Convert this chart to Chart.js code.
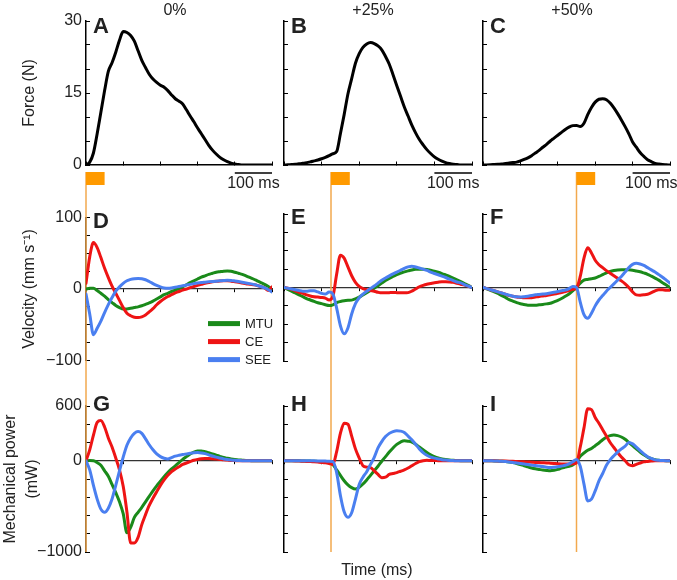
<!DOCTYPE html>
<html>
<head>
<meta charset="utf-8">
<script src="https://cdn.jsdelivr.net/npm/chart.js@4.4.1/dist/chart.umd.min.js"></script>
<style>
  body { margin: 0; background: #fff; }
  #fig { position: relative; width: 677px; height: 580px; overflow: hidden;
         font-family: 'Liberation Sans', Arial, sans-serif; color: #222; }
  #fig canvas { position: absolute; }
  .note { position: absolute; font-size: 16px; line-height: 18px; text-align: center; white-space: nowrap; }
</style>
</head>
<body>
<div id="fig"></div>
<script>
var FONT = "'Liberation Sans', Arial, sans-serif";
var INK = '#222';
var MTU = '#1a8a1a';
var CE = '#ee1414';
var SEE = '#4a7ff0';
var ORANGE = '#ff9a00';
var ORANGE_LINE = '#f2a94e';

// shared time base (ms)
var timeMs = [0, 10, 20, 30, 40, 50, 60, 70, 80, 90, 100, 110, 120, 130, 140, 150, 160, 170, 180, 190,
  200, 210, 220, 230, 240, 250, 260, 270, 280, 290, 300, 310, 320, 330, 340, 350, 360, 370, 380, 390,
  400, 410, 420, 430, 440, 450, 460, 470, 480, 490, 500];

var columnTitles = ['0%', '+25%', '+50%'];
var panelLetters = [['A', 'B', 'C'], ['D', 'E', 'F'], ['G', 'H', 'I']];
var seriesLabels = ['MTU', 'CE', 'SEE'];
var stimOnsetMs = [0, 125, 250];
var stimDurationMs = 50;

// force (N)
var forceA = [0, 0.6, 2.5, 6.5, 11, 15.5, 19.5, 21.3, 23.5, 26, 27.8, 27.6, 27, 25.8, 23.8, 21.8, 20.3, 18.9, 17.9, 17.2,
  16.6, 16.2, 15.5, 14.6, 13.8, 13.3, 12.7, 11.5, 10.2, 9, 7.7, 6.5, 5.3, 4.1, 3.1, 2.3, 1.6, 1.1, 0.7, 0.4,
  0.2, 0.1, 0, 0, 0, 0, 0, 0, 0, 0, 0];
var forceB = [0, 0.05, 0.1, 0.15, 0.25, 0.35, 0.5, 0.65, 0.85, 1.05, 1.3, 1.6, 1.95, 2.35, 2.8, 6.5, 10.5, 14.8, 18, 21.2,
  23.2, 24.5, 25.2, 25.5, 25.3, 24.8, 24, 22.6, 21, 18.8, 16.5, 14.3, 12.1, 10.2, 8.3, 6.7, 5.3, 4.2, 3.2, 2.4,
  1.7, 1.2, 0.8, 0.5, 0.3, 0.15, 0.08, 0, 0, 0, 0];
var forceC = [0, 0.02, 0.05, 0.1, 0.15, 0.2, 0.3, 0.4, 0.5, 0.6, 0.85, 1.15, 1.5, 1.95, 2.5, 3.05, 3.7, 4.3, 5, 5.6,
  6.2, 6.8, 7.4, 7.9, 8.2, 8.25, 8, 8.7, 10.5, 12, 13.1, 13.7, 13.8, 13.6, 12.9, 11.9, 10.7, 9.4, 8, 6.5,
  4.8, 3.7, 2.6, 1.8, 1.1, 0.7, 0.35, 0.2, 0.1, 0.05, 0];

// velocity (mm s-1)
var velMtuD = [0, 1, 1, -2, -6, -10, -15, -19, -23, -26, -28, -28, -27, -26, -25, -23.5, -21.5, -19.5, -17, -14,
  -11, -8, -6, -3.5, -1.5, 0.5, 3, 6, 9, 11.5, 14, 16.5, 18.5, 20.5, 22, 23.5, 24.3, 25, 25.2, 24.8,
  23.5, 22, 20.5, 18.5, 16.3, 14, 11.5, 9, 6.5, 3.5, 0];
var velCeD = [8, 45, 65, 58, 44, 29, 16, 4, -6, -16, -26, -34, -37.5, -39.5, -40, -39, -36.5, -32, -27.5, -22,
  -17.5, -13.5, -10.5, -8, -5.5, -3.5, -1.5, 0, 2, 3.5, 5, 6.5, 8, 9, 10, 10.7, 11.2, 11.4, 11.4, 11,
  10.3, 9.5, 8.5, 7.5, 6.8, 6, 5, 3.5, 1.5, -2, 3];
var velSeeD = [-7, -35, -64, -55, -45, -33, -22, -12, -3, 3, 8, 11.5, 13.5, 14.5, 14.7, 14.3, 13, 10.5, 7.5, 5,
  3, 1.5, 1, 1.5, 2.5, 3.5, 4.5, 5.5, 6.5, 7.5, 8.3, 9, 9.5, 10, 10.5, 11, 11.5, 12, 12.3, 12,
  11.3, 10.5, 9.5, 8.5, 7.5, 6.5, 5, 3.5, 1.5, -1, -4];
var velMtuE = [0, -2.5, -5, -7.5, -10, -12.5, -15, -17, -19, -20.8, -22, -23.5, -24.5, -23.5, -20.5, -19, -18, -17.5, -17.2, -15.5,
  -13, -10, -7, -4, -1, 2.5, 6, 9.5, 12.5, 15, 17.5, 19.5, 21.3, 22.6, 23.8, 24.7, 25, 25, 24.6, 23.5,
  22.3, 20.8, 19, 17, 15, 12.8, 10.5, 8, 5.4, 2.8, 0];
var velCeE = [0, -1, -2.5, -4.5, -6.5, -8, -10, -11.5, -12.5, -13, -13.5, -14.5, -17, -12, 18, 44, 40, 28, 16, 7,
  1.5, -1.5, -3, -4, -5, -6.5, -7.3, -7.3, -7, -6.8, -7, -7.3, -7.3, -7, -5, -2, 1, 3, 4.5, 5.5,
  6.5, 7.2, 7.7, 7.7, 7.5, 7, 5.8, 4.5, 3.2, 1.6, 0];
var velSeeE = [0, -1, -2, -3, -4, -5, -5, -4.5, -4.5, -6, -8, -9, -6, -9, -28, -52, -63, -55, -36, -22,
  -14, -9, -5, -1.5, 2, 6, 10, 13, 15.8, 18.5, 21, 23.5, 26, 28, 29, 28, 26.5, 25, 23.2, 21,
  19, 17.3, 15.5, 13.6, 11.5, 9.3, 7.5, 6.2, 4, 2, 0];
var velMtuF = [0, -2, -4, -6, -8.2, -11, -13.5, -16.5, -18.5, -20.5, -22, -23, -24, -24, -24, -23.5, -23, -22.3, -21.5, -19.5,
  -17.5, -15, -12, -8.8, -4.5, 0, 6, 10, 11, 12, 13, 15, 17.5, 20, 21.8, 23, 23.8, 24, 24, 24,
  23.5, 22.5, 21.5, 19.8, 18, 15.5, 12.8, 10, 6.5, 3.5, 0];
var velCeF = [0, -1.5, -3, -4.5, -6, -7.5, -9, -11, -12, -13, -13.5, -14, -14, -13.8, -13, -12.2, -11.5, -10.8, -10, -9,
  -8, -7, -5.5, -4, -2.5, -1, 15, 40, 54, 47, 37, 31, 27, 23, 19.5, 16, 12.5, 9, 5, 0,
  -6, -10, -10.4, -10, -9.2, -7, -4.5, -3, -3.2, -3.6, -3.6];
var velSeeF = [0, -1.5, -3, -4.5, -6, -7.5, -9, -10.5, -11.8, -12.7, -13, -12.5, -11.8, -11, -10, -9.5, -9, -8.5, -7.5, -6.5,
  -5.5, -4.5, -3.5, -1.5, 1.5, 0, -20, -37, -42, -35, -25, -17, -11, -5, 0, 5, 10, 15, 21, 27,
  31.5, 33, 32, 30, 27, 24, 21, 17.5, 14, 10, 6];

// mechanical power (mW)
var powMtuG = [0, 2, 0, -20, -50, -110, -170, -260, -350, -450, -580, -790, -730, -620, -565, -510, -450, -390, -330, -275,
  -225, -175, -130, -90, -55, -20, 15, 45, 75, 95, 106, 108, 100, 88, 76, 62, 48, 35, 27, 20,
  14, 9, 6, 3, 2, 0, 0, 0, 0, 0, 0];
var powCeG = [0, 120, 280, 420, 440, 370, 250, 150, 30, -100, -280, -560, -900, -900, -840, -700, -590, -490, -410, -340,
  -270, -210, -160, -120, -90, -65, -40, -25, -10, 5, 15, 22, 25, 25, 22, 18, 14, 10, 7, 4,
  2, 0, 0, 0, 0, 0, 0, 0, 0, 0, 0];
var powSeeG = [0, -100, -270, -420, -530, -565, -520, -420, -270, -110, 40, 170, 250, 300, 320, 300, 240, 175, 120, 75,
  45, 28, 20, 35, 50, 60, 68, 75, 82, 88, 90, 86, 78, 65, 52, 40, 30, 20, 13, 8,
  5, 3, 0, 0, 0, 0, 0, 0, 0, 0, 0];
var powMtuH = [0, 0, 0, -1, -1, -2, -3, -4, -5, -7, -9, -12, -18, -40, -100, -160, -219, -265, -295, -310,
  -290, -255, -210, -160, -110, -60, -5, 45, 95, 140, 180, 205, 218, 214, 205, 180, 150, 120, 90, 65,
  45, 30, 20, 13, 8, 5, 3, 1, 0, 0, 0];
var powCeH = [0, 0, -1, -2, -3, -5, -7, -9, -12, -15, -18, -22, -30, -40, 100, 300, 410, 400, 270, 130,
  30, -55, -70, -75, -110, -150, -185, -180, -150, -140, -130, -115, -100, -80, -55, -30, -10, 0, 5, 3,
  2, 1, 0, 0, 0, 0, 0, 0, 0, 0, 0];
var powSeeH = [0, 0, 0, 0, 0, 0, 0, -1, -1, -2, -3, -4, -6, -10, -130, -380, -560, -620, -570, -420,
  -260, -180, -120, -40, 37, 140, 210, 265, 300, 320, 329, 325, 310, 270, 230, 180, 130, 90, 60, 40,
  29, 20, 12, 7, 4, 2, 0, 0, 0, 0, 0];
var powMtuI = [0, 0, -1, -2, -4, -6, -8, -13, -20, -30, -42, -55, -67, -79, -88, -95, -102, -107, -110, -105,
  -95, -80, -70, -60, -45, -10, 50, 85, 115, 135, 165, 195, 230, 258, 275, 281, 275, 260, 235, 200,
  165, 130, 95, 65, 40, 22, 10, 5, 2, 0, 0];
var powCeI = [0, 0, 0, -1, -2, -3, -4, -5, -6, -8, -10, -12, -14, -16, -18, -20, -22, -24, -27, -30,
  -33, -35, -36, -36, -33, -25, 150, 360, 570, 560, 475, 410, 340, 270, 200, 145, 90, 40, 0, -45,
  -55, -40, -25, -12, -7, -3, 0, 0, 0, 0, 0];
var powSeeI = [0, 0, -1, -2, -4, -6, -9, -13, -18, -24, -30, -36, -42, -48, -53, -58, -64, -70, -73, -70,
  -65, -58, -50, -35, -10, 15, -60, -256, -440, -420, -330, -220, -140, -50, 10, 55, 95, 130, 160, 200,
  185, 150, 110, 75, 44, 25, 10, 5, 2, 0, 0];

var panelSeries = [
  [[forceA], [forceB], [forceC]],
  [[velMtuD, velCeD, velSeeD], [velMtuE, velCeE, velSeeE], [velMtuF, velCeF, velSeeF]],
  [[powMtuG, powCeG, powSeeG], [powMtuH, powCeH, powSeeH], [powMtuI, powCeI, powSeeI]]
];
var seriesColours = [MTU, CE, SEE];

// layout of the figure grid (pixels)
var AXIS_X = [86, 284, 483];
var PLOT_W = [186, 188, 187];
var ROWS = [
  { top: 0, height: 200, axisTop: 21, axisBottom: 165, letterDy: -5 },
  { top: 200, height: 178, axisTop: 214, axisBottom: 361, letterDy: -7 },
  { top: 378, height: 202, axisTop: 406, axisBottom: 552, letterDy: -12 }
];
var YAXES = [
  { min: 0, max: 30, step: 5, labelled: [0, 15, 30], title: 'Force (N)' },
  { min: -100, max: 100, step: 25, labelled: [-100, 0, 100], title: 'Velocity (mm s\u207B\u00B9)' },
  { min: -1000, max: 600, step: 200, labelled: [-1000, 0, 600], title: ['Mechanical power', '(mW)'] }
];

Chart.defaults.font.family = FONT;
Chart.defaults.color = INK;

var fig = document.getElementById('fig');

var stimPlugin = {
  id: 'stim',
  beforeDatasetsDraw: function (chart, args, opts) {
    var xs = chart.scales.x;
    var area = chart.chartArea;
    var ctx = chart.ctx;
    var x0 = xs.getPixelForValue(opts.onset);
    var x1 = xs.getPixelForValue(opts.onset + stimDurationMs);
    var yTop = opts.row === 0 ? area.bottom + 7 : 0;
    var yBot = opts.row === 2 ? area.bottom : chart.height;
    ctx.save();
    ctx.strokeStyle = ORANGE_LINE;
    ctx.lineWidth = 1.5;
    ctx.beginPath();
    ctx.moveTo(x0, yTop);
    ctx.lineTo(x0, yBot);
    ctx.stroke();
    if (opts.row === 0) {
      ctx.fillStyle = ORANGE;
      ctx.fillRect(x0, area.bottom + 7, x1 - x0, 13);
    }
    ctx.restore();
  }
};

var decorPlugin = {
  id: 'decor',
  afterDraw: function (chart, args, opts) {
    var area = chart.chartArea;
    var ctx = chart.ctx;
    var xs = chart.scales.x;
    ctx.save();
    // panel letter
    ctx.fillStyle = INK;
    ctx.font = 'bold 22px ' + FONT;
    ctx.textBaseline = 'top';
    ctx.textAlign = 'left';
    ctx.fillText(opts.letter, area.left + 7, area.top + opts.letterDy);
    // 100 ms scale bar
    if (opts.scaleBar) {
      var b0 = xs.getPixelForValue(400);
      var b1 = xs.getPixelForValue(500);
      ctx.strokeStyle = '#000';
      ctx.lineWidth = 1.5;
      ctx.beginPath();
      ctx.moveTo(b0, area.bottom + 8);
      ctx.lineTo(b1, area.bottom + 8);
      ctx.stroke();
      ctx.font = '16px ' + FONT;
      ctx.textAlign = 'center';
      ctx.textBaseline = 'middle';
      ctx.fillText('100 ms', (b0 + b1) / 2, area.bottom + 19);
    }
    // legend
    if (opts.legend) {
      ctx.font = '13px ' + FONT;
      ctx.textAlign = 'left';
      ctx.textBaseline = 'middle';
      chart.data.datasets.forEach(function (ds, i) {
        var y = area.top + 106 + 18 * i;
        ctx.strokeStyle = ds.borderColor;
        ctx.lineWidth = 5;
        ctx.beginPath();
        ctx.moveTo(area.left + 122, y);
        ctx.lineTo(area.left + 154, y);
        ctx.stroke();
        ctx.fillStyle = INK;
        ctx.fillText(ds.label, area.left + 159, y + 1);
      });
    }
    ctx.restore();
  }
};

function minusSign(v) {
  return v < 0 ? '\u2212' + Math.abs(v) : String(v);
}

function buildPanel(row, col) {
  var g = ROWS[row];
  var ya = YAXES[row];
  var yW = col === 0 ? AXIS_X[0] : 20;
  var canvas = document.createElement('canvas');
  canvas.width = yW + PLOT_W[col] + 8;
  canvas.height = g.height;
  canvas.style.left = (AXIS_X[col] - yW) + 'px';
  canvas.style.top = g.top + 'px';
  canvas.style.width = canvas.width + 'px';
  canvas.style.height = canvas.height + 'px';
  fig.appendChild(canvas);

  var datasets = panelSeries[row][col].map(function (values, i) {
    var colour = row === 0 ? '#000' : seriesColours[i];
    return {
      label: row === 0 ? 'Force' : seriesLabels[i],
      data: values.map(function (v, k) { return { x: timeMs[k], y: v }; }),
      borderColor: colour,
      borderWidth: 3,
      pointRadius: 0,
      cubicInterpolationMode: 'monotone',
      borderJoinStyle: 'round',
      borderCapStyle: 'round',
      fill: false,
      order: row === 0 ? 0 : 2 - i
    };
  });

  new Chart(canvas, {
    type: 'line',
    data: { datasets: datasets },
    options: {
      responsive: false,
      animation: false,
      devicePixelRatio: 1,
      events: [],
      layout: {
        padding: { left: 0, right: 8, top: g.axisTop - g.top, bottom: g.top + g.height - g.axisBottom }
      },
      plugins: {
        legend: { display: false },
        tooltip: { enabled: false },
        stim: { onset: stimOnsetMs[col], row: row },
        decor: {
          letter: panelLetters[row][col],
          letterDy: g.letterDy,
          scaleBar: row === 0,
          legend: row === 1 && col === 0
        }
      },
      scales: {
        x: {
          type: 'linear',
          min: 0,
          max: 500,
          position: { y: 0 },
          border: { color: row === 0 ? '#000' : '#333', width: row === 0 ? 1.5 : 1.2 },
          grid: { drawOnChartArea: false, tickLength: row === 0 ? -4 : 3, color: '#000' },
          ticks: { display: false, stepSize: 100, autoSkip: false }
        },
        y: {
          type: 'linear',
          position: 'left',
          min: ya.min,
          max: ya.max,
          afterFit: function (scale) { scale.width = yW; },
          border: { color: '#000', width: 1.5 },
          grid: { drawOnChartArea: false, tickLength: -4, color: '#000' },
          ticks: {
            display: col === 0,
            stepSize: ya.step,
            autoSkip: false,
            padding: 8,
            color: INK,
            font: { size: 16 },
            callback: function (value) {
              return ya.labelled.indexOf(value) >= 0 ? minusSign(value) : '';
            }
          },
          title: {
            display: col === 0,
            text: ya.title,
            color: INK,
            font: { size: 16, lineHeight: row === 2 ? 1.375 : 1.2 },
            padding: { top: row === 2 ? 0 : 20, bottom: 0 }
          }
        }
      }
    },
    plugins: [stimPlugin, decorPlugin]
  });
}

for (var r = 0; r < 3; r++) {
  for (var c = 0; c < 3; c++) buildPanel(r, c);
}

columnTitles.forEach(function (t, c) {
  var d = document.createElement('div');
  d.className = 'note';
  d.textContent = t;
  d.style.left = (AXIS_X[c] + 89 - 50) + 'px';
  d.style.width = '100px';
  d.style.top = '1px';
  fig.appendChild(d);
});

var timeLabel = document.createElement('div');
timeLabel.className = 'note';
timeLabel.textContent = 'Time (ms)';
timeLabel.style.left = '327px';
timeLabel.style.width = '100px';
timeLabel.style.top = '561px';
fig.appendChild(timeLabel);
</script>
</body>
</html>
